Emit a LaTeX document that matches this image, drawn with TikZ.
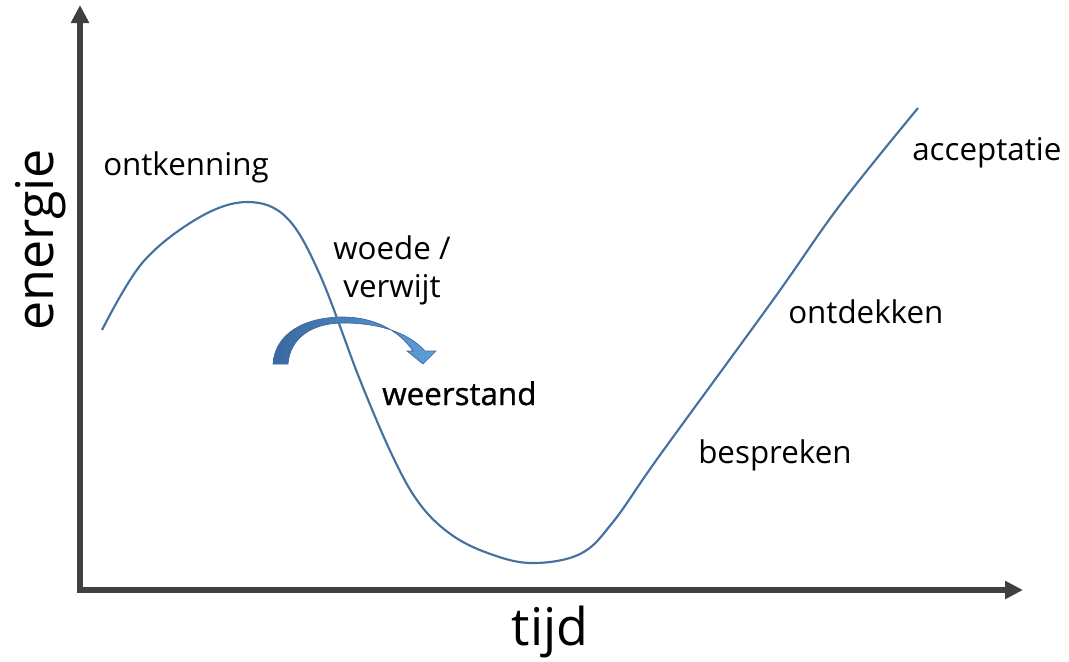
\documentclass[tikz,border=0pt]{standalone}
\usepackage{fontspec}
\setmainfont{Open Sans}
\newfontfamily\semifont{Open Sans}[FakeBold=1]
\usetikzlibrary{arrows.meta, positioning}
\definecolor{axisgray}{RGB}{64,64,64}
\definecolor{curveblue}{RGB}{68,114,160}
\definecolor{arrowdark}{RGB}{58,104,160}
\definecolor{arrowlight}{RGB}{95,158,215}

\begin{document}
\begin{tikzpicture}[
        x=0.75pt, y=-0.75pt,
        axis/.style={draw=axisgray, line width=4.5pt, line join=miter},
        curve/.style={draw=curveblue, line width=1.6pt},
        phase/.style={inner sep=0pt, anchor=base west, font=\fontsize{23.5}{28.5}\selectfont},
        axislabel/.style={inner sep=0pt, anchor=base, font=\fontsize{39}{45}\selectfont},
        bendarrow/.style={left color=arrowdark, right color=arrowlight, draw=arrowdark, line width=0.5pt}
    ]
        \useasboundingbox (0,0) rectangle (1069,661);

        % Axes
        \coordinate (origin) at (80,590);
        \coordinate (ytop) at (80,5);
        \coordinate (xend) at (1023,590);
        \draw[axis, {Triangle[length=13.5pt,width=13pt]}-{Triangle[length=13.5pt,width=13pt]}] (ytop) -- (origin) -- (xend);
        \node[axislabel, rotate=90] (energy) at (53,240) {energie};
        \node[axislabel] (time) at (550,645) {tijd};

        % Curve
        \draw[curve] plot[smooth, tension=0.6] coordinates {
            (102,330) (143,262) (200,217) (248,202) (287,218) (320,275)
            (360,380) (393,457) (419,503) (449,533) (485,552) (530,563) (580,554)
            (613,522) (660,455) (773,300) (840,205) (918,108)};

        % Bent arrow
        \path[bendarrow] (273,364) .. controls (275,333) and (305,317) .. (343,317)
            .. controls (372,317) and (398,329) .. (413,351)
            -- (407,351) -- (423,364) -- (436,351) -- (425,351)
            .. controls (408,332) and (378,323) .. (343,323)
            .. controls (312,323) and (290,338) .. (288,364) -- cycle;

        % Phases
        \node[phase] (denial) at (103,175) {ontkenning};
        \node[phase, align=center, anchor=center] (anger) at (392,270) {woede /\\verwijt};
        \node[phase, font=\semifont\fontsize{23.5}{28.5}\selectfont] (resistance) at (382,405) {weerstand};
        \node[phase] (discuss) at (698,463) {bespreken};
        \node[phase] (discover) at (788,323) {ontdekken};
        \node[phase] (accept) at (912,160) {acceptatie};
    \end{tikzpicture}
\end{document}
